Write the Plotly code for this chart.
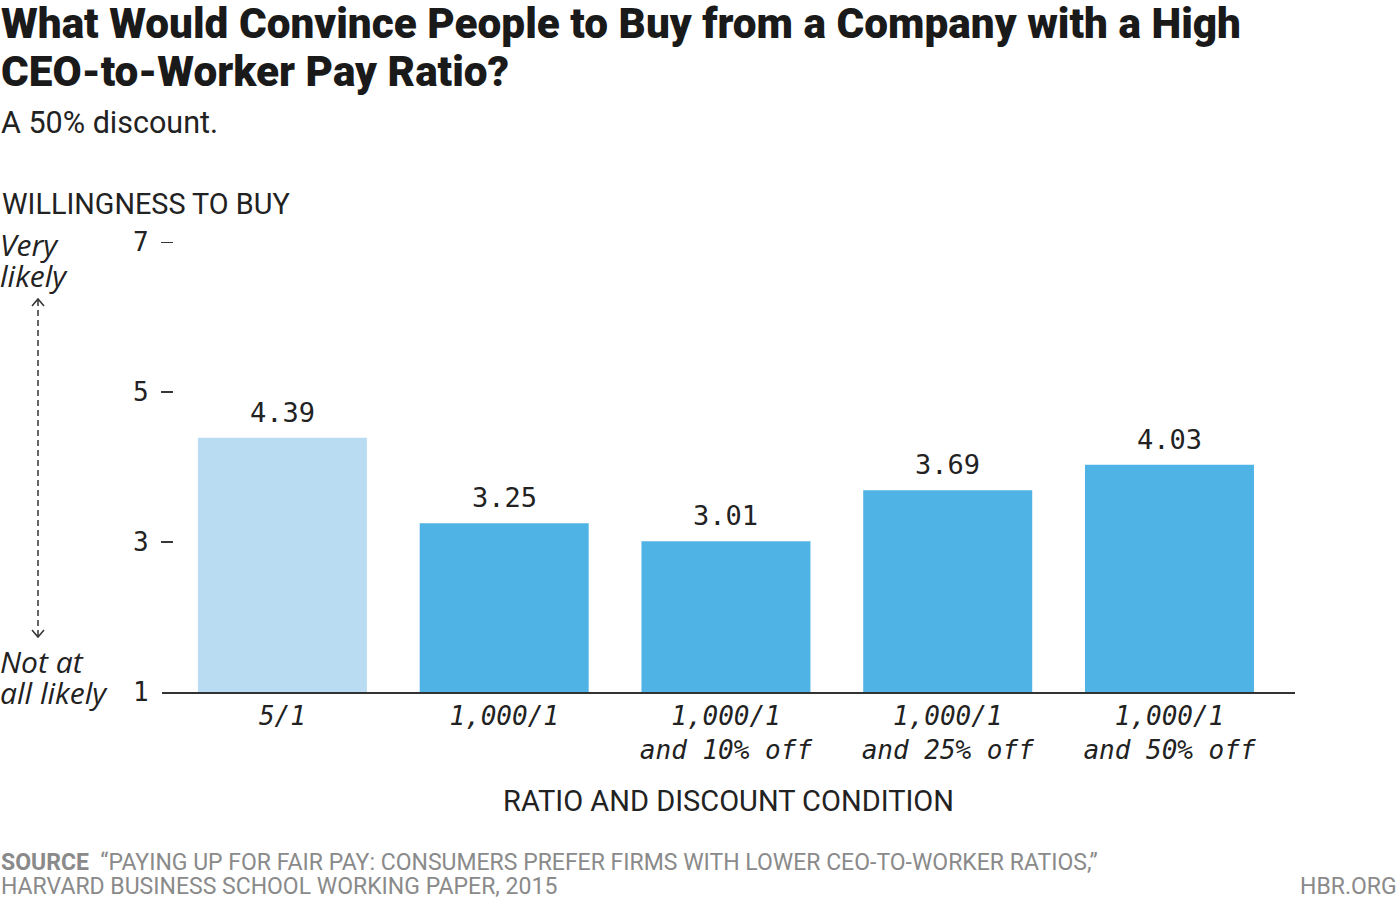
import plotly.graph_objects as go

categories = ["5/1", "1,000/1", "1,000/1<br>and 10% off", "1,000/1<br>and 25% off", "1,000/1<br>and 50% off"]
values = [4.39, 3.25, 3.01, 3.69, 4.03]
value_labels = ["4.39", "3.25", "3.01", "3.69", "4.03"]
bar_colors = ["#B9DCF3", "#4FB3E5", "#4FB3E5", "#4FB3E5", "#4FB3E5"]
y_ticks = [1, 3, 5, 7]
y_tick_labels = ["1", "3", "5", "7"]

title_lines = ["What Would Convince People to Buy from a Company with a High", "CEO-to-Worker Pay Ratio?"]
subtitle_text = "A 50% discount."
y_title = "WILLINGNESS TO BUY"
x_title = "RATIO AND DISCOUNT CONDITION"
top_note = ["Very", "likely"]
bottom_note = ["Not at", "all likely"]
source_lines = ["<b>SOURCE</b>  “PAYING UP FOR FAIR PAY: CONSUMERS PREFER FIRMS WITH LOWER CEO-TO-WORKER RATIOS,”",
                "HARVARD BUSINESS SCHOOL WORKING PAPER, 2015"]
brand = "HBR.ORG"

W, H = 1400, 904
L, T = 162, 242
R = W - 1295
B = H - 692
pw, ph = W - L - R, H - T - B

def px(x):
    return (x - L) / pw

def py(y):
    return (H - B - y) / ph

MONO = "DejaVu Sans Mono"
SANS = "Roboto"
TXT = "#222222"
GREY = "#8a8a8a"

fig = go.Figure()
fig.add_trace(go.Bar(
    x=list(range(len(categories))), y=values, marker=dict(color=bar_colors, line=dict(width=0)),
    width=0.762, hoverinfo="skip"))

for i, (v, lab) in enumerate(zip(values, value_labels)):
    fig.add_annotation(x=i, y=v, xref="x", yref="y", text=lab, showarrow=False,
                       yanchor="bottom", yshift=8, font=dict(family=MONO, size=27, color=TXT))

for t, lab in zip(y_ticks, y_tick_labels):
    fig.add_annotation(x=px(151), y=t, xref="paper", yref="y", text=lab, showarrow=False,
                       xanchor="right", font=dict(family=MONO, size=26, color=TXT))
    if t != y_ticks[0]:
        fig.add_shape(type="line", xref="paper", yref="y", x0=px(161), x1=px(173), y0=t, y1=t,
                      line=dict(color=TXT, width=1.8))

def add_text(x, y, text, size, family=SANS, color=TXT, xanchor="left", style="normal", weight="normal"):
    fig.add_annotation(x=px(x), y=py(y), xref="paper", yref="paper", text=text, showarrow=False,
                       xanchor=xanchor, yanchor="middle", align="left", borderpad=0,
                       font=dict(family=family, size=size, color=color, style=style, weight=weight))

add_text(0, 23, title_lines[0], 42.3, color="#1a1a1a", weight=900)
add_text(0, 71, title_lines[1], 42.3, color="#1a1a1a", weight=900)
add_text(0, 122, subtitle_text, 30.5)
add_text(1, 204, y_title, 28.8)
add_text(-1, 244, top_note[0], 30, family="Open Sans", style="italic")
add_text(-1, 275, top_note[1], 30, family="Open Sans", style="italic")
add_text(-1, 661, bottom_note[0], 30, family="Open Sans", style="italic")
add_text(-1, 692, bottom_note[1], 30, family="Open Sans", style="italic")
add_text(0, 862, source_lines[0], 23, color=GREY)
add_text(0, 886, source_lines[1], 23, color=GREY)
add_text(1398, 886, brand, 23, color=GREY, xanchor="right")

# dashed arrow
ax = 38
fig.add_shape(type="line", xref="paper", yref="paper", x0=px(ax), x1=px(ax), y0=py(300), y1=py(636),
              line=dict(color="#333", width=1.5, dash="6px,4px"))
fig.add_shape(type="path", xref="paper", yref="paper",
              path=f"M {px(ax-6)},{py(306)} L {px(ax)},{py(299)} L {px(ax+6)},{py(306)}",
              line=dict(color="#333", width=1.5))
fig.add_shape(type="path", xref="paper", yref="paper",
              path=f"M {px(ax-6)},{py(630)} L {px(ax)},{py(637)} L {px(ax+6)},{py(630)}",
              line=dict(color="#333", width=1.5))

fig.update_layout(
    width=W, height=H, margin=dict(l=L, r=R, t=T, b=B),
    paper_bgcolor="white", plot_bgcolor="white", showlegend=False,
    xaxis=dict(range=[-0.543, 4.566], tickvals=list(range(len(categories))), ticktext=categories,
               showgrid=False, zeroline=False, showline=True, linecolor="#333", linewidth=2,
               ticks="", tickfont=dict(family=MONO, size=26, color=TXT, style="italic"),
               title=dict(text=x_title, font=dict(family=SANS, size=29, color=TXT), standoff=27)),
    yaxis=dict(range=[1, 7], showticklabels=False, showgrid=False, zeroline=False, showline=False, ticks=""),
)

fig.write_html("out.html", config={"displayModeBar": False},
               post_script="document.body.style.margin='0';document.body.style.overflow='hidden';")
